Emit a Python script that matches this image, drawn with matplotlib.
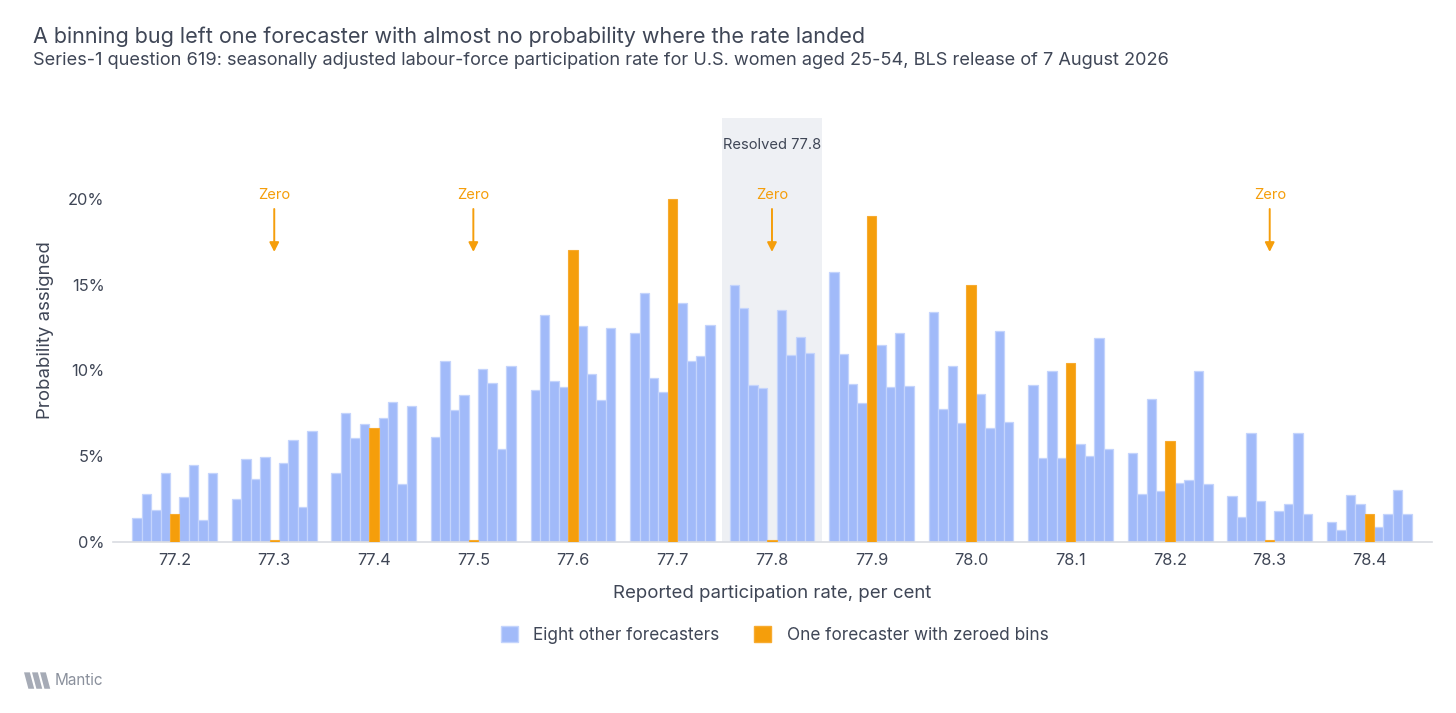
import numpy as np
import matplotlib
matplotlib.use("Agg")
import matplotlib.pyplot as plt
from matplotlib.patches import Patch, Polygon

plt.rcParams['font.family'] = ['Inter', 'DejaVu Sans']

# Bins of the reported rate (per cent)
bins = ["77.2", "77.3", "77.4", "77.5", "77.6", "77.7", "77.8",
        "77.9", "78.0", "78.1", "78.2", "78.3", "78.4"]

# Eight other forecasters, probability in % per bin
fc1 = [1.40, 2.48, 4.04, 6.12, 8.87, 12.15, 14.99, 15.73, 13.38, 9.12, 5.18, 2.66, 1.16]
fc2 = [2.81, 4.83, 7.49, 10.52, 13.22, 14.50, 13.65, 10.93, 7.73, 4.87, 2.80, 1.47, 0.68]
fc3 = [1.88, 3.65, 6.04, 7.67, 9.38, 9.53, 9.12, 9.22, 10.23, 9.98, 8.35, 6.35, 2.72]
fc4 = [4.04, 4.93, 6.87, 8.54, 9.03, 8.74, 8.97, 8.08, 6.91, 4.91, 2.97, 2.41, 2.23]
fc5 = [2.60, 4.58, 7.20, 10.10, 12.60, 13.92, 13.53, 11.49, 8.64, 5.73, 3.42, 1.82, 0.87]
fc6 = [4.47, 5.94, 8.13, 9.28, 9.80, 10.56, 10.87, 9.01, 6.64, 5.03, 3.61, 2.23, 1.61]
fc7 = [1.28, 2.02, 3.38, 5.44, 8.25, 10.81, 11.96, 12.19, 12.31, 11.88, 9.94, 6.35, 3.05]
fc8 = [4.02, 6.45, 7.90, 10.25, 12.48, 12.64, 11.01, 9.07, 6.97, 5.42, 3.40, 1.65, 1.65]

# The forecaster with zeroed bins
zeroed = [1.61, 0.12, 6.64, 0.12, 17.0, 20.0, 0.12, 19.0, 15.0, 10.41, 5.86, 0.12, 1.65]

zero_bins = ["77.3", "77.5", "77.8", "78.3"]
resolved = "77.8"

blue = "#a1baf9"
blue_edge = "#c4d4fc"
orange = "#f59e0b"
text_col = "#3f4656"

fig = plt.figure(figsize=(14.56, 7.13), dpi=100)
ax = fig.add_axes([0.0776, 0.2398, 0.9059, 0.5947])

x = np.arange(len(bins))
w = 0.0945
series = [fc1, fc2, fc3, fc4, None, fc5, fc6, fc7, fc8]
for k, s in enumerate(series):
    off = (k - 4) * w
    if s is None:
        ax.bar(x + off, zeroed, width=w, color=orange, edgecolor="#f7ab30",
               linewidth=0.8, zorder=3)
    else:
        ax.bar(x + off, s, width=w, color=blue, edgecolor=blue_edge,
               linewidth=0.9, zorder=2)

ri = bins.index(resolved)
ax.axvspan(ri - 0.5, ri + 0.5, ymin=0, ymax=1, color="#eef0f4", zorder=0, lw=0)
ax.text(ri, 23.1, "Resolved 77.8", ha="center", va="center", fontsize=10.6,
        color=text_col)

for b in zero_bins:
    i = bins.index(b)
    ax.annotate("", xy=(i, 16.9), xytext=(i, 19.4),
                arrowprops=dict(arrowstyle="-|>,head_width=0.28,head_length=0.55",
                                color=orange, lw=1.4, shrinkA=0, shrinkB=0),
                zorder=4)
    ax.text(i, 20.2, "Zero", ha="center", va="center", fontsize=10.6,
            color=orange)

ax.set_xlim(-0.62, 12.63)
ax.set_ylim(0, 24.7)
ax.set_yticks([0, 5, 10, 15, 20])
ax.set_yticklabels(["0%", "5%", "10%", "15%", "20%"])
ax.set_xticks(x)
ax.set_xticklabels(bins)
ax.tick_params(length=0, labelsize=11.8, colors=text_col)
ax.tick_params(axis="x", pad=8)
ax.tick_params(axis="y", pad=6)
for sp in ["top", "right", "left"]:
    ax.spines[sp].set_visible(False)
ax.spines["bottom"].set_color("#d9dce2")
ax.spines["bottom"].set_linewidth(1.2)

ax.set_xlabel("Reported participation rate, per cent", fontsize=13.4,
              color=text_col, labelpad=12)
ax.set_ylabel("Probability assigned", fontsize=13.4, color=text_col, labelpad=10)

fig.text(0.0227, 0.948, "A binning bug left one forecaster with almost no probability where the rate landed",
         fontsize=15.5, color=text_col, va="center")
fig.text(0.0227, 0.915, "Series-1 question 619: seasonally adjusted labour-force participation rate for U.S. women aged 25-54, BLS release of 7 August 2026",
         fontsize=13.1, color=text_col, va="center")

handles = [Patch(facecolor=blue, edgecolor=blue_edge, label="Eight other forecasters"),
           Patch(facecolor=orange, edgecolor="#f7ab30", label="One forecaster with zeroed bins")]
fig.legend(handles=handles, loc="center", bbox_to_anchor=(0.532, 0.109), ncol=2,
           frameon=False, fontsize=12.4, handlelength=1.0, handleheight=1.0,
           columnspacing=2.0, handletextpad=0.9, labelcolor=text_col)

# small logo mark and name
for dx in [0, 0.0055, 0.011]:
    fig.patches.append(Polygon([[0.0165 + dx, 0.057], [0.0205 + dx, 0.057],
                                [0.0235 + dx, 0.034], [0.0195 + dx, 0.034]],
                               closed=True, transform=fig.transFigure,
                               facecolor="#a6abb6", edgecolor="none"))
fig.text(0.0375, 0.046, "Mantic", fontsize=11, color="#8a909c", va="center")

fig.savefig("out.png", dpi=100)
